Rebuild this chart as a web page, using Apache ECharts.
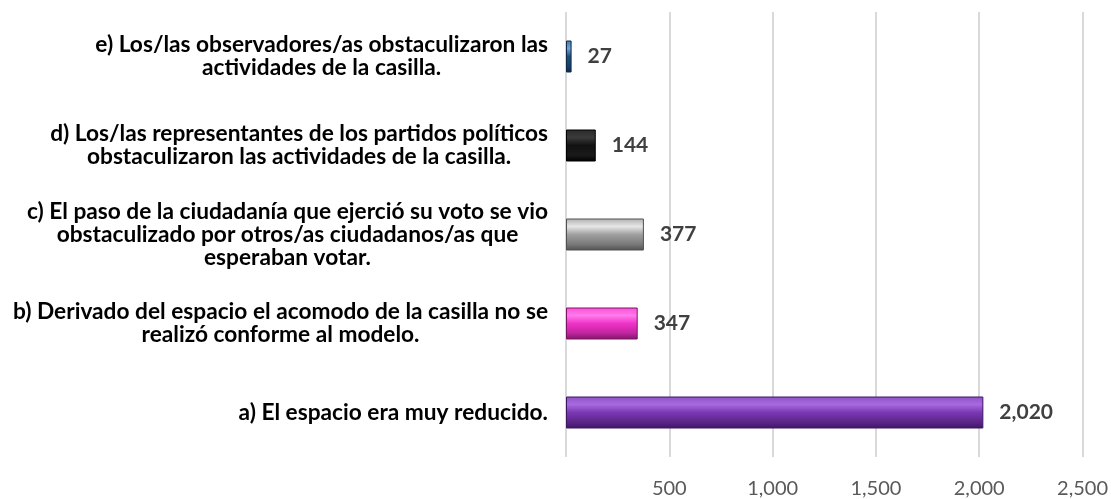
<!DOCTYPE html>
<html>
<head>
<meta charset="utf-8">
<script src="https://cdn.jsdelivr.net/npm/echarts@6/dist/echarts.min.js"></script>
<style>html,body{margin:0;padding:0;background:#fff;}#c{width:1111px;height:499px;}</style>
</head>
<body>
<div id="c"></div>
<script>
// Categories (bottom to top)
const categories = [
  'a) El espacio era muy reducido.',
  'b) Derivado del espacio el acomodo de la casilla no se\nrealizó conforme al modelo.',
  'c) El paso de la ciudadanía que ejerció su voto se vio\nobstaculizado por otros/as ciudadanos/as que\nesperaban votar.',
  'd) Los/las representantes de los partidos políticos\nobstaculizaron las actividades de la casilla.',
  'e) Los/las observadores/as obstaculizaron las\nactividades de la casilla.'
];
const values = [2020, 347, 377, 144, 27];
const xTicks = [0, 500, 1000, 1500, 2000, 2500];

const barStyles = [
  ['#8f52c4', '#a86ae0', '#7a38b3', '#5c2589', '#3d1660'],
  ['#ff4fd6', '#ff7aec', '#f033c8', '#c0259e', '#7d1566'],
  ['#b0b0b0', '#e6e6e6', '#a0a0a0', '#7a7a7a', '#505050'],
  ['#2a2a2a', '#3a3a3a', '#111111', '#1a1a1a', '#000000'],
  ['#3f78b0', '#6fa3d6', '#1f4e79', '#18406a', '#0e2a48']
];
function grad(c) {
  return new echarts.graphic.LinearGradient(0, 0, 0, 1, [
    {offset: 0, color: c[0]},
    {offset: 0.25, color: c[1]},
    {offset: 0.5, color: c[2]},
    {offset: 0.8, color: c[3]},
    {offset: 1, color: c[4]}
  ]);
}
const fmt = v => v.toLocaleString('en-US');

const chart = echarts.init(document.getElementById('c'), null, {renderer: 'canvas'});
chart.setOption({
  animation: false,
  grid: {left: 566, right: 28, top: 12, bottom: 41, containLabel: false},
  xAxis: {
    type: 'value', min: xTicks[0], max: xTicks[xTicks.length - 1], interval: 500,
    axisLine: {show: false}, axisTick: {show: false},
    splitLine: {lineStyle: {color: '#d9d9d9', width: 2}},
    axisLabel: {
      margin: 22, color: '#595959', fontSize: 20, fontFamily: 'Lato',
      formatter: v => v === 0 ? '' : fmt(v)
    }
  },
  yAxis: {
    type: 'category', data: categories,
    axisLine: {show: false}, axisTick: {show: false},
    axisLabel: {
      margin: 18, align: 'right', color: '#000', fontSize: 22.7, fontWeight: 'bold', fontFamily: 'Lato',
      lineHeight: 23,
      formatter: v => v.split('\n').map(l => '{c|' + l + '}').join('\n'),
      rich: {c: {align: 'center', fontSize: 22.7, fontWeight: 'bold', fontFamily: 'Lato', color: '#000', lineHeight: 23}}
    }
  },
  series: [{
    type: 'bar', barWidth: 32,
    data: values.map((v, i) => ({
      value: v,
      itemStyle: {color: grad(barStyles[i]), borderColor: barStyles[i][4], borderWidth: 1}
    })),
    label: {
      show: true, position: 'right', distance: 16,
      color: '#404040', fontSize: 21, fontWeight: 'bold', fontFamily: 'Lato',
      formatter: p => fmt(p.value)
    }
  }]
});
</script>
</body>
</html>
